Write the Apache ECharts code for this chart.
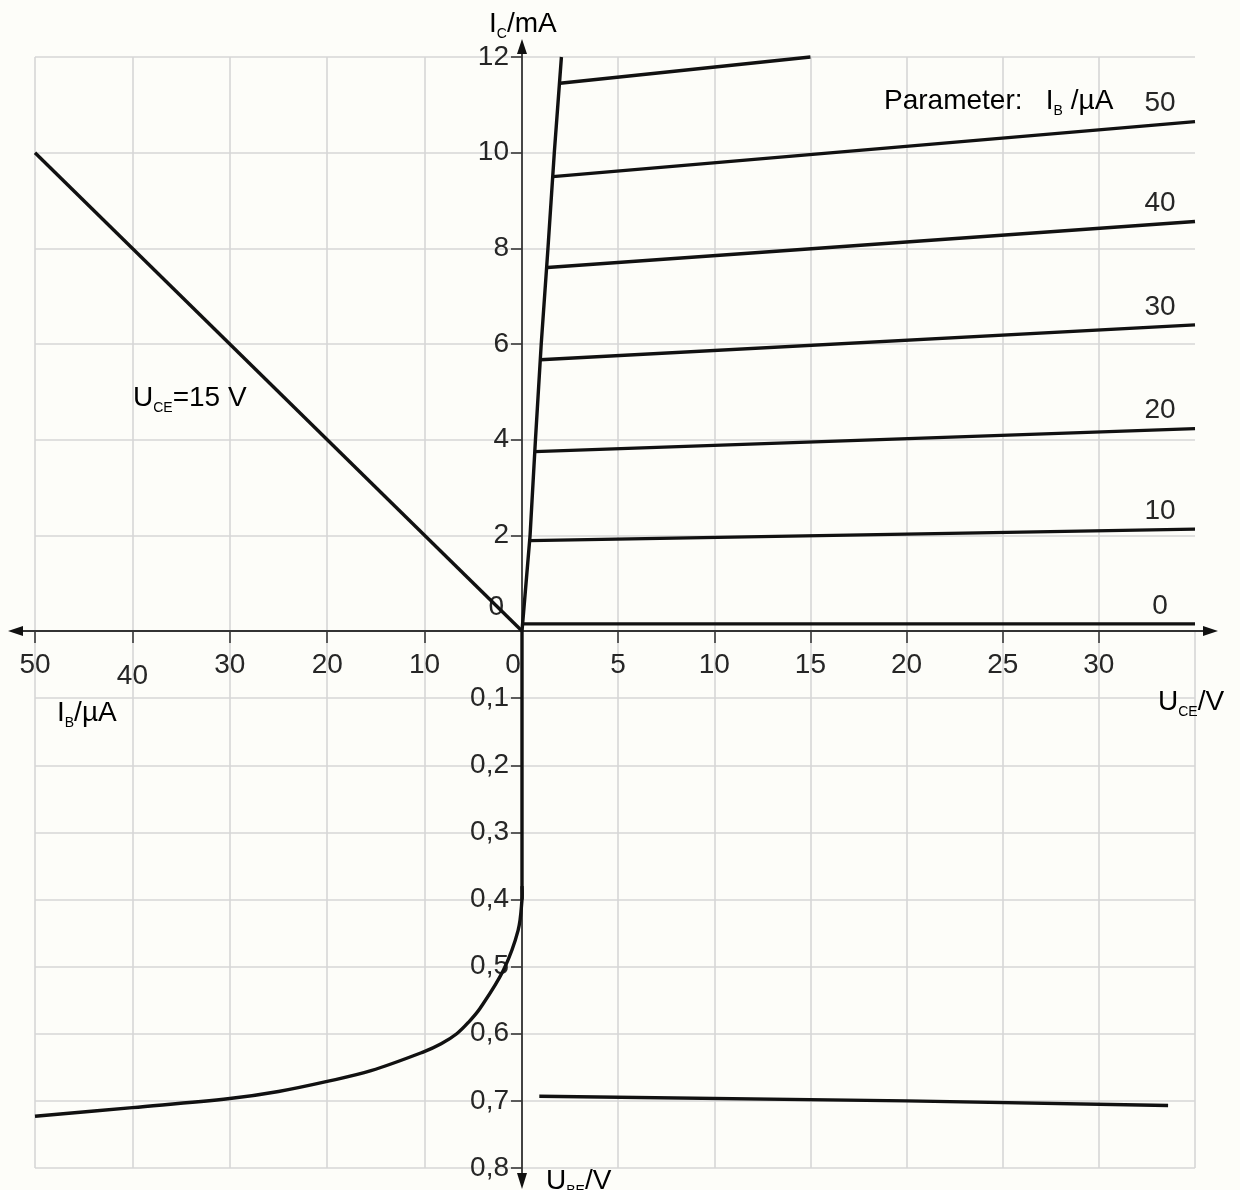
<!DOCTYPE html>
<html><head><meta charset="utf-8">
<script src="https://cdn.jsdelivr.net/npm/echarts@6/dist/echarts.min.js"></script>
<style>html,body{margin:0;padding:0;background:#fdfdf9;}#c{width:1240px;height:1190px;}</style>
</head><body><div id="c"></div>
<script>
// ---------- data ----------
// output characteristics I_C(U_CE), parameter I_B in µA
const ibParams      = [0, 10, 20, 30, 40, 50, 60];
const ibParamLabels = ['0', '10', '20', '30', '40', '50', ''];
const outStartU = [0.05, 0.4, 0.66, 0.95, 1.32, 1.6, 1.97];
const outStartI = [0.15, 1.89, 3.75, 5.67, 7.6, 9.5, 11.45];
const outEndU   = [35, 35, 35, 35, 35, 35, 15];
const outEndI   = [0.15, 2.13, 4.23, 6.4, 8.56, 10.65, 12.0];
// saturation boundary
const satU = [0, 0.42, 0.7, 1.0, 1.35, 1.68, 2.05];
const satI = [0, 2, 4, 6, 8, 10, 12];
// current transfer characteristic I_C(I_B) at U_CE = 15 V
const transferIB = [50, 0];
const transferIC = [10, 0];
// input characteristic U_BE(I_B): straight lead along the axis, then the curved part
const inputLeadIB  = [0, 0];
const inputLeadUBE = [0, 0.4];
const inputIB  = [0, 0, 0.4, 1.9, 4.3, 5.5, 6.7, 8.3, 10.1, 15.5, 20, 25, 30, 40, 50];
const inputUBE = [0.38, 0.4, 0.446, 0.505, 0.562, 0.583, 0.6, 0.615, 0.627, 0.655, 0.671, 0.686, 0.6965, 0.71, 0.723];
// feedback characteristic U_BE(U_CE)
const feedbackUCE = [0.9, 20, 33.6];
const feedbackUBE = [0.693, 0.7, 0.707];
// axis ranges / tick steps / labelled ticks
const uceRange = [0, 35], uceStep = 5, uceTicks = [5, 10, 15, 20, 25, 30];
const ibRange  = [0, 50], ibStep = 10, ibTicks = [50, 40, 30, 20, 10, 0];
const icRange  = [0, 12], icStep = 2,  icTicks = [0, 2, 4, 6, 8, 10, 12];
const ubeRange = [0, 0.8], ubeStep = 0.1, ubeTicks = [0.1, 0.2, 0.3, 0.4, 0.5, 0.6, 0.7, 0.8];

// ---------- styles ----------
const FONT = "'Liberation Sans', Arial, sans-serif";
const TXT = '#262626';
const GRIDC = '#d6d6d6';
const FS = 28;
const split = {show: true, lineStyle: {color: GRIDC, width: 1.6}};
const hidden = {axisLine: {show: false}, axisTick: {show: false}, axisLabel: {show: false}};
const tick = (vals, len) => ({show: true, length: len, customValues: vals, lineStyle: {color: '#3a3a3a', width: 1.6}});
const curve = {color: '#111', width: 3.4};

const chart = echarts.init(document.getElementById('c'), null, {renderer: 'canvas'});

const grids = [
  {left: 522, top: 57, width: 673, height: 574},   // TR  U_CE / I_C
  {left: 35,  top: 57, width: 487, height: 574},   // TL  I_B / I_C
  {left: 35,  top: 631, width: 487, height: 537},  // BL  I_B / U_BE
  {left: 522, top: 631, width: 673, height: 537}   // BR  U_CE / U_BE
];

const lab = (extra) => Object.assign({fontSize: FS, fontFamily: FONT, color: TXT}, extra || {});

const xAxis = [
  {gridIndex: 0, type: 'value', min: uceRange[0], max: uceRange[1], interval: uceStep, position: 'bottom',
   axisLine: {show: false}, axisTick: tick(uceTicks, 12),
   axisLabel: lab({margin: 20, customValues: uceTicks, formatter: v => String(v)}),
   splitLine: split},
  {gridIndex: 1, type: 'value', min: ibRange[0], max: ibRange[1], interval: ibStep, inverse: true, position: 'bottom',
   axisLine: {show: false}, axisTick: tick(ibTicks.filter(v => v !== 0), 12),
   axisLabel: lab({margin: 20, customValues: ibTicks,
     formatter: v => v === 40 ? '{low|40}' : (v === 0 ? '{zb|0}' : '{n|' + v + '}'),
     rich: {n: lab(), low: lab({padding: [11, 0, 0, 0]}), zb: lab({padding: [0, 18, 0, 0]})}}),
   splitLine: split},
  Object.assign({gridIndex: 2, type: 'value', min: ibRange[0], max: ibRange[1], interval: ibStep, inverse: true, splitLine: split}, hidden),
  Object.assign({gridIndex: 3, type: 'value', min: uceRange[0], max: uceRange[1], interval: uceStep, splitLine: split}, hidden)
];

const yAxis = [
  {gridIndex: 0, type: 'value', min: icRange[0], max: icRange[1], interval: icStep, position: 'left',
   axisLine: {show: false}, axisTick: tick(icTicks.filter(v => v !== 0), 11),
   axisLabel: lab({margin: 13, customValues: icTicks, formatter: v => v === 0 ? '{z|0}' : '{n|' + v + '}',
     rich: {n: lab(), z: lab({padding: [0, 5, 48, 0]})}}),
   splitLine: split},
  Object.assign({gridIndex: 1, type: 'value', min: icRange[0], max: icRange[1], interval: icStep, splitLine: split}, hidden),
  Object.assign({gridIndex: 2, type: 'value', min: ubeRange[0], max: ubeRange[1], interval: ubeStep, inverse: true, splitLine: split}, hidden),
  {gridIndex: 3, type: 'value', min: ubeRange[0], max: ubeRange[1], interval: ubeStep, inverse: true, position: 'left',
   axisLine: {show: false}, axisTick: tick(ubeTicks, 11),
   axisLabel: lab({margin: 13, customValues: ubeTicks, formatter: v => Number(v).toFixed(1).replace('.', ',')}),
   splitLine: split}
];

const base = {type: 'line', symbol: 'none', clip: false, silent: true, animation: false, lineStyle: curve, z: 5};
const series = [];
series.push(Object.assign({}, base, {xAxisIndex: 0, yAxisIndex: 0, data: satU.map((u, i) => [u, satI[i]])}));
ibParams.forEach((p, i) => {
  series.push(Object.assign({}, base, {
    name: 'IB ' + p,
    xAxisIndex: 0, yAxisIndex: 0, symbol: 'circle', symbolSize: 0, showSymbol: true,
    itemStyle: {color: '#111'},
    data: [
      [outStartU[i], outStartI[i]],
      {value: [outEndU[i], outEndI[i]],
       label: {show: ibParamLabels[i] !== '', formatter: ibParamLabels[i], position: 'top', distance: 0,
               offset: [-35, -4], fontSize: FS, fontFamily: FONT, color: TXT}}
    ]
  }));
});
series.push(Object.assign({}, base, {xAxisIndex: 1, yAxisIndex: 1, data: transferIB.map((b, i) => [b, transferIC[i]])}));
series.push(Object.assign({}, base, {xAxisIndex: 2, yAxisIndex: 2, data: inputLeadIB.map((b, i) => [b, inputLeadUBE[i]])}));
// input characteristic: smooth curve through the read points, positioned by the axes' scales
const inputPts = inputIB.map((b, i) => [b, inputUBE[i]]);
series.push({
  type: 'custom', coordinateSystem: 'cartesian2d', xAxisIndex: 2, yAxisIndex: 2, silent: true, animation: false, z: 5,
  data: [inputPts[0]],
  renderItem: (params, api) => ({
    type: 'polyline',
    shape: {points: inputPts.map(p => api.coord(p)), smooth: 0.35},
    style: {stroke: '#111', lineWidth: 3.4, fill: 'none', lineJoin: 'round'}
  })
});
series.push(Object.assign({}, base, {xAxisIndex: 3, yAxisIndex: 3, data: feedbackUCE.map((u, i) => [u, feedbackUBE[i]])}));

chart.setOption({
  backgroundColor: '#fdfdf9',
  animation: false,
  grid: grids,
  xAxis: xAxis,
  yAxis: yAxis,
  series: series
});

// ---------- axes with arrows and axis titles ----------
const o = chart.convertToPixel({xAxisIndex: 0, yAxisIndex: 0}, [0, 0]);
const ox = o[0], oy = o[1];
const AX = '#333';
const m = lab({lineHeight: 34});
const s = {fontSize: 14, fontFamily: FONT, color: TXT, lineHeight: 14, verticalAlign: 'bottom'};
const graphics = [
  {type: 'line', z: 3, shape: {x1: 14, y1: oy, x2: 1210, y2: oy}, style: {stroke: AX, lineWidth: 1.8}},
  {type: 'polygon', z: 3, shape: {points: [[1218, oy], [1203, oy - 5], [1203, oy + 5]]}, style: {fill: '#111'}},
  {type: 'polygon', z: 3, shape: {points: [[8, oy], [23, oy - 5], [23, oy + 5]]}, style: {fill: '#111'}},
  {type: 'line', z: 3, shape: {x1: ox, y1: 48, x2: ox, y2: 1180}, style: {stroke: AX, lineWidth: 1.8}},
  {type: 'polygon', z: 3, shape: {points: [[ox, 39], [ox - 5, 54], [ox + 5, 54]]}, style: {fill: '#111'}},
  {type: 'polygon', z: 3, shape: {points: [[ox, 1189], [ox - 5, 1173], [ox + 5, 1173]]}, style: {fill: '#111'}},
  {type: 'text', z: 6, x: 489, y: 24, style: {text: '{m|I}{s|C}{m|/mA}', rich: {m: m, s: s}, verticalAlign: 'middle'}},
  {type: 'text', z: 6, x: 1158, y: 702, style: {text: '{m|U}{s|CE}{m|/V}', rich: {m: m, s: s}, verticalAlign: 'middle'}},
  {type: 'text', z: 6, x: 57, y: 713, style: {text: '{m|I}{s|B}{m|/µA}', rich: {m: m, s: s}, verticalAlign: 'middle'}},
  {type: 'text', z: 6, x: 546, y: 1181, style: {text: '{m|U}{s|BE}{m|/V}', rich: {m: m, s: s}, verticalAlign: 'middle'}},
  {type: 'text', z: 6, x: 133, y: 398, style: {text: '{m|U}{s|CE}{m|=15 V}', rich: {m: m, s: s}, verticalAlign: 'middle'}},
  {type: 'text', z: 6, x: 884, y: 101, style: {text: '{m|Parameter:   I}{s|B}{m| /µA}', rich: {m: m, s: s}, verticalAlign: 'middle'}}
];
chart.setOption({graphic: graphics});
</script></body></html>
